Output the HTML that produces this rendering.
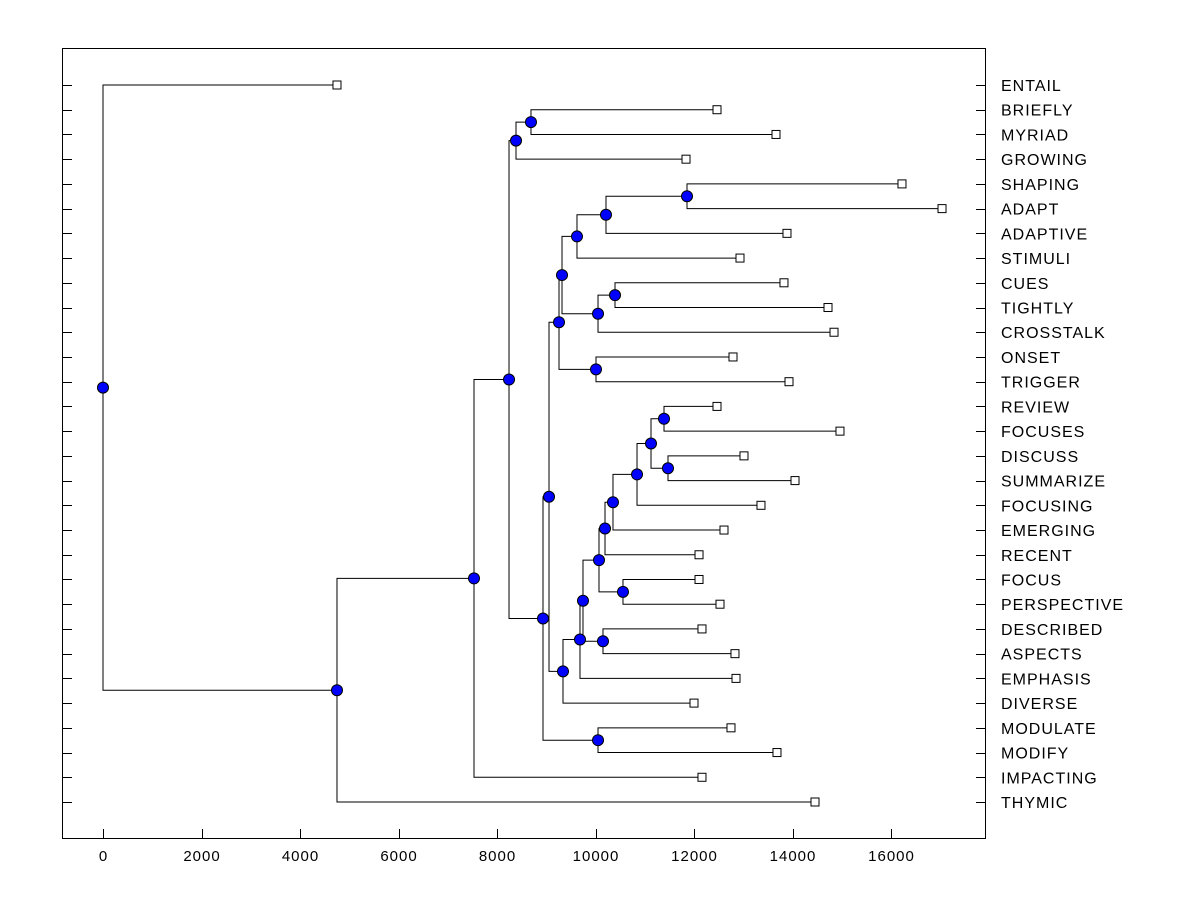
<!DOCTYPE html>
<html><head><meta charset="utf-8"><style>
html,body{margin:0;padding:0;background:#fff;}
svg{display:block;font-family:"Liberation Sans",Arial,sans-serif;}
</style></head><body>
<svg id="chart" width="1200" height="900" xmlns="http://www.w3.org/2000/svg">
<rect x="62.5" y="48.5" width="923" height="790" fill="#fff" stroke="#000" stroke-width="1"/>
<g id="axes"></g>
<g id="links"></g>
<g id="marks"></g>
</svg>
<script>
const leafNames = ["ENTAIL","BRIEFLY","MYRIAD","GROWING","SHAPING","ADAPT","ADAPTIVE","STIMULI","CUES","TIGHTLY","CROSSTALK","ONSET","TRIGGER","REVIEW","FOCUSES","DISCUSS","SUMMARIZE","FOCUSING","EMERGING","RECENT","FOCUS","PERSPECTIVE","DESCRIBED","ASPECTS","EMPHASIS","DIVERSE","MODULATE","MODIFY","IMPACTING","THYMIC"];
const leafValues = [4751,12467,13665,11838,16223,17036,13888,12934,13827,14721,14843,12792,13929,12467,14964,13015,14051,13360,12609,12102,12102,12528,12162,12832,12853,12000,12751,13685,12162,14457];
// internal nodes: children refer to leaves as "L<index>" and nodes as "N<index>"
const nodeValues = [0,4751,7533,8244,8386,8934,8690,9056,10051,9259,9340,9320,10010,9624,10051,10213,11858,10396,9685,9746,10071,10152,10193,10558,10355,10843,11127,11391,11472];
const nodeLeft  = ["L0","N2","N3","N4","N6","N7","L1","N9","L26","N11","N18","N13","L11","N15","N17","N16","L4","L8","N19","N20","N22","L22","N24","L20","N25","N26","N27","L13","L15"];
const nodeRight = ["N1","L29","L28","N5","L3","N8","L2","N10","L27","N12","L25","N14","L12","L7","L10","L6","L5","L9","L24","N21","N23","L23","L19","L21","L18","L17","N28","L14","L16"];
const xTicks = [0,2000,4000,6000,8000,10000,12000,14000,16000];

const NS="http://www.w3.org/2000/svg";
const X0=103, XS=(891-103)/16000;
const xs=v=>X0+v*XS;
const Y0=85, YS=(802-85)/29;
const ys=i=>Y0+i*YS;
function mk(tag,attrs,parent){const e=document.createElementNS(NS,tag);for(const k in attrs)e.setAttribute(k,attrs[k]);parent.appendChild(e);return e;}
const axes=document.getElementById('axes'),links=document.getElementById('links'),marks=document.getElementById('marks');

xTicks.forEach(t=>{
  const x=Math.round(xs(t))+0.5;
  const l=mk('line',{x1:x,x2:x,y1:829,y2:838,stroke:'#000'},axes);
  
  
  const tx=mk('text',{x:xs(t)+0.5,y:861,'text-anchor':'middle','font-size':'15','letter-spacing':'1'},axes);
  tx.textContent=t;
  
  
});
leafNames.forEach((n,i)=>{
  const y=Math.round(ys(i))+0.5;
  const a=mk('line',{x1:62,x2:72,y1:y,y2:y,stroke:'#000'},axes);
  
  
  const b=mk('line',{x1:976,x2:985,y1:y,y2:y,stroke:'#000'},axes);
  
  
  const t=mk('text',{x:1001,y:ys(i)+6,'font-size':'16','letter-spacing':'1'},axes);
  t.textContent=n;
  
  
});

function pos(ref){
  const i=+ref.slice(1);
  if(ref[0]==='L') return {x:xs(leafValues[i]),y:ys(i)};
  const a=pos(nodeLeft[i]),b=pos(nodeRight[i]);
  return {x:xs(nodeValues[i]),y:(a.y+b.y)/2};
}
nodeValues.forEach((v,i)=>{
  const p=pos('N'+i),a=pos(nodeLeft[i]),b=pos(nodeRight[i]);
  const pl=mk('polyline',{points:`${a.x},${a.y} ${p.x},${a.y} ${p.x},${b.y} ${b.x},${b.y}`,fill:'none',stroke:'#000','stroke-width':1},links);
  
  
});
leafValues.forEach((v,i)=>{
  const r=mk('rect',{x:xs(v)-4,y:ys(i)-4,width:8,height:8,fill:'#fff',stroke:'#000'},marks);
  
  
});
nodeValues.forEach((v,i)=>{
  const p=pos('N'+i);
  const c=mk('circle',{cx:p.x,cy:p.y,r:5.5,fill:'#0000ff',stroke:'#000'},marks);
  
  
});
</script>
</body></html>
